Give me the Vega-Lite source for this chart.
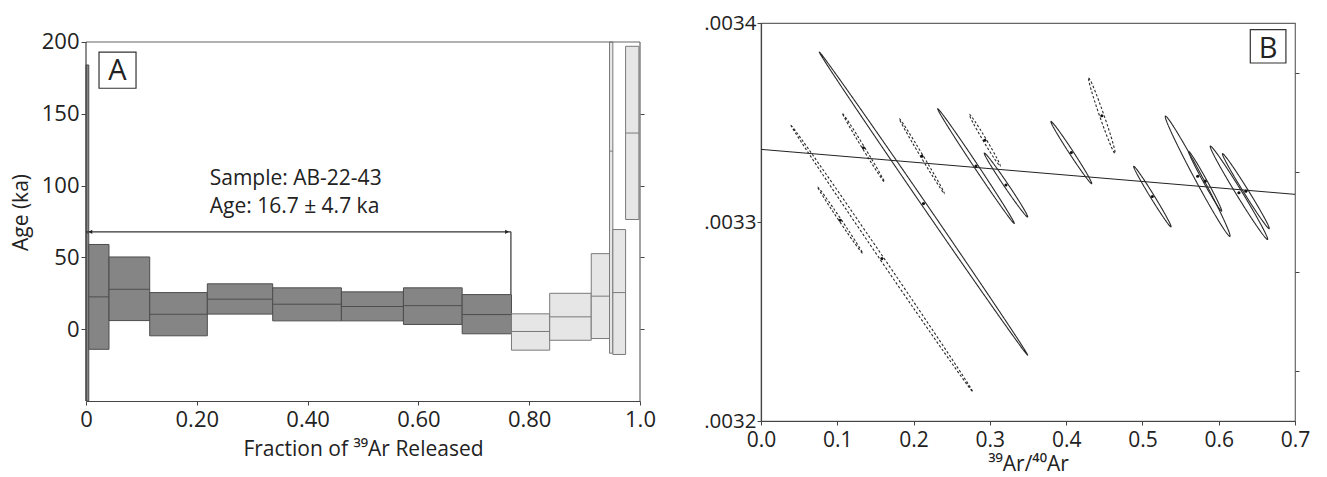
{
  "$schema": "https://vega.github.io/schema/vega-lite/v6.json",
  "background": "white",
  "padding": {"left": 10, "top": 12, "right": 0, "bottom": 0},
  "spacing": 47,
  "config": {
    "font": "Open Sans",
    "view": {"stroke": "#666", "strokeWidth": 1.2},
    "axis": {"grid": false, "labelColor": "#222", "titleColor": "#222", "domainColor": "#444", "tickColor": "#444", "titleFontWeight": "normal", "labelFlush": false, "labelOverlap": false, "domainWidth": 1.2, "tickWidth": 1}
  },
  "datasets": {
    "steps": [
      {"x1": 0, "x2": 0.005, "lo": -50, "hi": 184, "mid": 67, "group": "plateau"},
      {"x1": 0.005, "x2": 0.0415, "lo": -14, "hi": 59, "mid": 22.5, "group": "plateau"},
      {"x1": 0.0415, "x2": 0.115, "lo": 6, "hi": 50.3, "mid": 27.8, "group": "plateau"},
      {"x1": 0.115, "x2": 0.219, "lo": -4.6, "hi": 25.5, "mid": 10.4, "group": "plateau"},
      {"x1": 0.219, "x2": 0.337, "lo": 10.5, "hi": 31.6, "mid": 20.9, "group": "plateau"},
      {"x1": 0.337, "x2": 0.461, "lo": 5.8, "hi": 28.8, "mid": 17.4, "group": "plateau"},
      {"x1": 0.461, "x2": 0.573, "lo": 5.8, "hi": 26, "mid": 15.8, "group": "plateau"},
      {"x1": 0.573, "x2": 0.679, "lo": 3.3, "hi": 28.8, "mid": 16.4, "group": "plateau"},
      {"x1": 0.679, "x2": 0.768, "lo": -3.2, "hi": 24.1, "mid": 10.2, "group": "plateau"},
      {"x1": 0.768, "x2": 0.837, "lo": -14.6, "hi": 10.7, "mid": -1.6, "group": "excluded"},
      {"x1": 0.837, "x2": 0.912, "lo": -7.7, "hi": 25, "mid": 8.6, "group": "excluded"},
      {"x1": 0.912, "x2": 0.945, "lo": -6.5, "hi": 52.6, "mid": 23, "group": "excluded"},
      {"x1": 0.945, "x2": 0.951, "lo": -16.7, "hi": 200, "mid": 124, "group": "excluded"},
      {"x1": 0.951, "x2": 0.974, "lo": -17.6, "hi": 69.4, "mid": 25.5, "group": "excluded"},
      {"x1": 0.974, "x2": 0.998, "lo": 76.4, "hi": 197, "mid": 136.6, "group": "excluded"}
    ],
    "ellipses": [
      {"x": 0.2130, "y": 0.00330925, "major": 1.849, "ratio": 0.012, "angle": 55.5, "kind": "included"},
      {"x": 0.2818, "y": 0.0033281, "major": 0.694, "ratio": 0.03, "angle": 56.3, "kind": "included"},
      {"x": 0.3211, "y": 0.0033186, "major": 0.388, "ratio": 0.055, "angle": 55.9, "kind": "included"},
      {"x": 0.4068, "y": 0.0033349, "major": 0.374, "ratio": 0.055, "angle": 56.8, "kind": "included"},
      {"x": 0.5130, "y": 0.0033128, "major": 0.358, "ratio": 0.055, "angle": 58.4, "kind": "included"},
      {"x": 0.5724, "y": 0.0033230, "major": 0.686, "ratio": 0.055, "angle": 61.8, "kind": "included"},
      {"x": 0.5822, "y": 0.0033205, "major": 0.343, "ratio": 0.055, "angle": 61.1, "kind": "included"},
      {"x": 0.6265, "y": 0.0033147, "major": 0.551, "ratio": 0.055, "angle": 58.5, "kind": "included"},
      {"x": 0.6356, "y": 0.0033155, "major": 0.444, "ratio": 0.055, "angle": 58.1, "kind": "included"},
      {"x": 0.1585, "y": 0.0032816, "major": 1.622, "ratio": 0.012, "angle": 55.7, "kind": "excluded"},
      {"x": 0.1038, "y": 0.0033009, "major": 0.404, "ratio": 0.03, "angle": 55.9, "kind": "excluded"},
      {"x": 0.1343, "y": 0.0033373, "major": 0.403, "ratio": 0.03, "angle": 58.6, "kind": "excluded"},
      {"x": 0.2109, "y": 0.0033331, "major": 0.440, "ratio": 0.03, "angle": 59.0, "kind": "excluded"},
      {"x": 0.2934, "y": 0.0033411, "major": 0.304, "ratio": 0.055, "angle": 59.2, "kind": "excluded"},
      {"x": 0.4468, "y": 0.0033534, "major": 0.402, "ratio": 0.055, "angle": 70.8, "kind": "excluded"}
    ],
    "isochron": [
      {"x": 0, "y": 0.0033365},
      {"x": 0.7, "y": 0.0033139}
    ]
  },
  "hconcat": [
    {
      "width": 554,
      "height": 378,
      "view": {"stroke": null},
      "resolve": {"axis": {"y": "independent"}},
      "layer": [
        {
          "data": {"name": "steps"},
          "mark": {"type": "rect", "strokeWidth": 1},
          "encoding": {
            "x": {"field": "x1", "type": "quantitative", "scale": {"domain": [0, 1], "nice": false},
              "axis": {"values": [0, 0.2, 0.4, 0.6, 0.8, 1], "labelExpr": "datum.value == 0 ? '0' : datum.value == 1 ? '1.0' : format(datum.value, '.2f')", "title": "Fraction of ³⁹Ar Released", "labelFontSize": 22, "titleFontSize": 21, "tickSize": 4, "labelPadding": 4, "titlePadding": 8}},
            "x2": {"field": "x2"},
            "y": {"field": "lo", "type": "quantitative", "scale": {"domain": [-50, 213.23], "nice": false, "zero": false},
              "axis": {"values": [0, 50, 100, 150, 200], "title": "Age (ka)", "labelFontSize": 22, "titleFontSize": 21, "tickSize": 5, "labelPadding": 2, "titlePadding": 10, "domain": false}},
            "y2": {"field": "hi"},
            "fill": {"field": "group", "type": "nominal", "scale": {"domain": ["plateau", "excluded"], "range": ["#858585", "#e6e6e6"]}, "legend": null},
            "stroke": {"field": "group", "type": "nominal", "scale": {"domain": ["plateau", "excluded"], "range": ["#4d4d4d", "#7a7a7a"]}, "legend": null}
          }
        },
        {
          "data": {"name": "steps"},
          "mark": {"type": "rule", "strokeWidth": 1},
          "encoding": {
            "x": {"field": "x1", "type": "quantitative"},
            "x2": {"field": "x2"},
            "y": {"field": "mid", "type": "quantitative",
              "axis": {"orient": "right", "values": [0, 50, 100, 150], "labels": false, "title": null, "tickSize": 4, "domain": false}},
            "stroke": {"field": "group", "type": "nominal", "legend": null}
          }
        },
        {
          "data": {"values": [{}]},
          "mark": {"type": "rule", "color": "#666", "strokeWidth": 1.2},
          "encoding": {
            "x": {"datum": 0},
            "x2": {"datum": 1},
            "y": {"datum": 200, "axis": null}
          }
        },
        {
          "data": {"values": [{}]},
          "mark": {"type": "rule", "color": "#666", "strokeWidth": 1.2},
          "encoding": {
            "x": {"datum": 1},
            "y": {"datum": -50, "axis": null},
            "y2": {"datum": 200}
          }
        },
        {
          "data": {"values": [{}]},
          "mark": {"type": "rule", "color": "#444", "strokeWidth": 1.2},
          "encoding": {
            "x": {"datum": 0},
            "y": {"datum": -50, "axis": null},
            "y2": {"datum": 200}
          }
        },
        {
          "data": {"values": [{}]},
          "mark": {"type": "rule", "color": "#333", "strokeWidth": 1.2},
          "encoding": {
            "x": {"datum": 0},
            "x2": {"datum": 0.767},
            "y": {"datum": 67.8, "axis": null}
          }
        },
        {
          "data": {"values": [{}]},
          "mark": {"type": "rule", "color": "#333", "strokeWidth": 1.2},
          "encoding": {
            "x": {"datum": 0.767},
            "y": {"datum": 67.8, "axis": null},
            "y2": {"datum": 24.5}
          }
        },
        {
          "data": {"values": [{}]},
          "mark": {"type": "point", "shape": "triangle-left", "filled": true, "size": 18, "color": "#222", "opacity": 1},
          "encoding": {
            "x": {"datum": 0.008},
            "y": {"datum": 67.8, "axis": null}
          }
        },
        {
          "data": {"values": [{}]},
          "mark": {"type": "point", "shape": "triangle-right", "filled": true, "size": 18, "color": "#222", "opacity": 1},
          "encoding": {
            "x": {"datum": 0.760},
            "y": {"datum": 67.8, "axis": null}
          }
        },
        {
          "data": {"values": [{}]},
          "mark": {"type": "text", "align": "left", "baseline": "alphabetic", "fontSize": 21, "color": "#222"},
          "encoding": {
            "x": {"datum": 0.2233},
            "y": {"datum": 100.3, "axis": null},
            "text": {"value": "Sample: AB-22-43"}
          }
        },
        {
          "data": {"values": [{}]},
          "mark": {"type": "text", "align": "left", "baseline": "alphabetic", "fontSize": 21, "color": "#222"},
          "encoding": {
            "x": {"datum": 0.2233},
            "y": {"datum": 80.8, "axis": null},
            "text": {"value": "Age: 16.7 ± 4.7 ka"}
          }
        },
        {
          "data": {"values": [{}]},
          "mark": {"type": "rect", "fill": "white", "stroke": "#333", "strokeWidth": 1.2},
          "encoding": {
            "x": {"datum": 0.0235},
            "x2": {"datum": 0.0903},
            "y": {"datum": 192.9, "axis": null},
            "y2": {"datum": 167.8}
          }
        },
        {
          "data": {"values": [{}]},
          "mark": {"type": "text", "align": "center", "baseline": "alphabetic", "fontSize": 29, "color": "#222"},
          "encoding": {
            "x": {"datum": 0.0569},
            "y": {"datum": 173.4, "axis": null},
            "text": {"value": "A"}
          }
        }
      ]
    },
    {
      "width": 534,
      "height": 398,
      "resolve": {"axis": {"y": "independent"}},
      "layer": [
        {
          "data": {"name": "isochron"},
          "mark": {"type": "line", "color": "#222", "strokeWidth": 1},
          "encoding": {
            "x": {"field": "x", "type": "quantitative", "scale": {"domain": [0, 0.7], "nice": false},
              "axis": {"values": [0, 0.1, 0.2, 0.3, 0.4, 0.5, 0.6, 0.7], "format": ".1f", "title": "³⁹Ar/⁴⁰Ar", "labelFontSize": 21, "titleFontSize": 21, "tickSize": 4, "labelPadding": 4, "titlePadding": 3}},
            "y": {"field": "y", "type": "quantitative", "scale": {"domain": [0.0032, 0.0034], "nice": false, "zero": false},
              "axis": {"values": [0.0032, 0.0033, 0.0034], "labelExpr": "replace(format(datum.value, '.4f'), '0.', '.')", "title": null, "labelFontSize": 20.5, "tickSize": 4, "labelPadding": 1}}
          }
        },
        {
          "data": {"name": "ellipses"},
          "mark": {"type": "point", "filled": false, "opacity": 1, "color": "#2a2a2a", "strokeWidth": 1.1},
          "encoding": {
            "x": {"field": "x", "type": "quantitative"},
            "y": {"field": "y", "type": "quantitative", "axis": null},
            "size": {"field": "major", "type": "quantitative", "scale": {"type": "pow", "exponent": 2, "domain": [0, 2], "range": [0, 158404]}, "legend": null},
            "shape": {"field": "ratio", "type": "nominal", "scale": {"domain": [0.012, 0.03, 0.055], "range": ["M-1,0A1,0.012,0,1,1,1,0A1,0.012,0,1,1,-1,0Z", "M-1,0A1,0.03,0,1,1,1,0A1,0.03,0,1,1,-1,0Z", "M-1,0A1,0.055,0,1,1,1,0A1,0.055,0,1,1,-1,0Z"]}, "legend": null},
            "angle": {"field": "angle", "type": "quantitative", "scale": null},
            "strokeDash": {"field": "kind", "type": "nominal", "scale": {"domain": ["included", "excluded"], "range": [[1, 0], [2.5, 2]]}, "legend": null}
          }
        },
        {
          "data": {"name": "ellipses"},
          "mark": {"type": "point", "filled": true, "opacity": 1, "color": "#111", "size": 10},
          "encoding": {
            "x": {"field": "x", "type": "quantitative"},
            "y": {"field": "y", "type": "quantitative",
              "axis": {"orient": "right", "values": [0.003225, 0.003275, 0.003325, 0.003375], "labels": false, "title": null, "tickSize": 4, "domain": false}}
          }
        },
        {
          "data": {"values": [{}]},
          "mark": {"type": "rect", "fill": "white", "stroke": "#333", "strokeWidth": 1.2},
          "encoding": {
            "x": {"datum": 0.6414},
            "x2": {"datum": 0.6881},
            "y": {"datum": 0.0033967, "axis": null},
            "y2": {"datum": 0.0033799}
          }
        },
        {
          "data": {"values": [{}]},
          "mark": {"type": "text", "align": "center", "baseline": "alphabetic", "fontSize": 29, "color": "#222"},
          "encoding": {
            "x": {"datum": 0.6647},
            "y": {"datum": 0.0033822, "axis": null},
            "text": {"value": "B"}
          }
        }
      ]
    }
  ]
}
